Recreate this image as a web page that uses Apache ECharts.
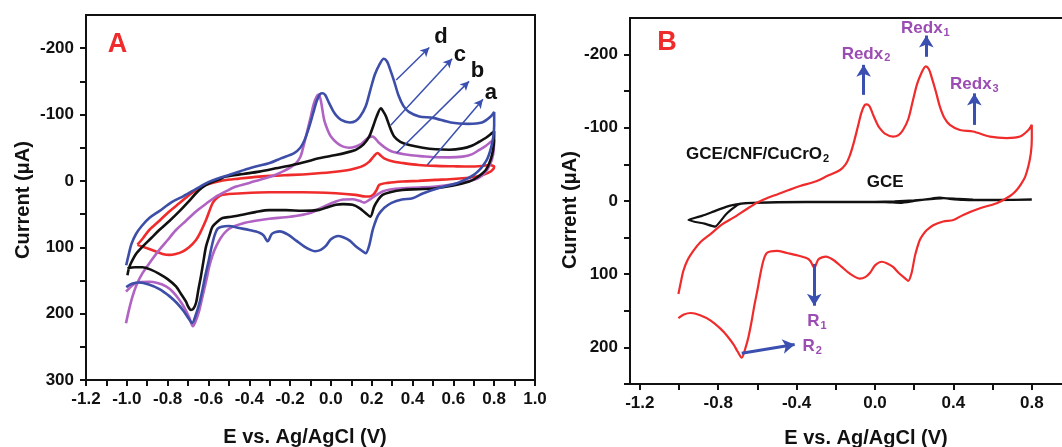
<!DOCTYPE html>
<html><head><meta charset="utf-8">
<script src="https://cdn.jsdelivr.net/npm/echarts@6/dist/echarts.min.js"></script>
<style>html,body{margin:0;padding:0;background:#fff}#c{width:1062px;height:447px}</style>
</head><body><div id="c"></div>
<script>
// ---------- Panel A curves (E in V, I in µA; sweep order) ----------
const curveA_E = [-0.948,-0.92,-0.89,-0.84,-0.792,-0.74,-0.694,-0.65,-0.612,-0.531,-0.45,-0.351,-0.23,-0.106,0.0,0.08,0.122,0.16,0.188,0.21,0.228,0.245,0.261,0.30,0.351,0.43,0.514,0.60,0.678,0.74,0.776,0.80,0.792,0.77,0.743,0.70,0.645,0.58,0.514,0.43,0.351,0.28,0.237,0.225,0.21,0.19,0.171,0.12,0.024,-0.139,-0.302,-0.433,-0.531,-0.56,-0.58,-0.612,-0.64,-0.661,-0.695,-0.727,-0.76,-0.792,-0.825,-0.857,-0.923,-0.948];
const curveA_I = [96,86,74,60,46,33,21,12,6,-0.5,-3.5,-6.5,-8.5,-10.5,-13,-16,-19,-23,-29,-37,-42,-38,-34,-29.5,-27,-24,-22.6,-22,-21.6,-22.5,-24,-21.6,-16.6,-12,-9,-6,-4,-2.5,-1.5,0,1,3,6,13,20,23.5,23.6,21,18.6,17,17,18.6,21,26,33.6,59,78,89,100,106.5,110,111.5,110,106.5,99,96.4];

const curveB_E = [-1.004,-0.99,-0.972,-0.95,-0.923,-0.88,-0.841,-0.80,-0.759,-0.71,-0.661,-0.61,-0.563,-0.51,-0.465,-0.40,-0.351,-0.29,-0.237,-0.20,-0.171,-0.15,-0.139,-0.12,-0.10,-0.085,-0.07,-0.061,-0.05,-0.033,-0.015,0.0,0.03,0.057,0.09,0.122,0.15,0.171,0.19,0.204,0.22,0.237,0.27,0.302,0.384,0.45,0.514,0.58,0.645,0.69,0.727,0.76,0.784,0.80,
  0.795,0.78,0.755,0.72,0.678,0.60,0.514,0.43,0.351,0.29,0.253,0.22,0.188,0.163,0.14,0.106,0.06,0.024,-0.03,-0.106,-0.20,-0.302,-0.37,-0.433,-0.48,-0.514,-0.54,-0.563,-0.58,-0.596,-0.612,-0.629,-0.645,-0.661,-0.676,-0.694,-0.72,-0.743,-0.775,-0.808,-0.85,-0.89,-0.955,-1.004];
const curveB_I = [214.5,195,174,155,139,120,104,89,74,60,46,34,23.6,15,8.5,3,-1.5,-7,-14,-20,-26.6,-36,-46.7,-70,-95,-115,-127,-130,-122,-92,-76,-67,-57,-52,-50,-52,-56,-62,-66,-67,-63,-57,-49,-44,-39,-37,-35.6,-35.5,-36.6,-40,-46.7,-53,-59,-62,
  -40,-25,-12,-4,0,5,8.5,10,11,13,16,22,28.6,32.7,30,27.6,28,31,38,48.7,54,57,60,64,69,76,86,99,112,129,152,174,195,210,219,206,190,179,167,159,154,152,154,167];

const curveC_E = [-0.997,-0.99,-0.98,-0.955,-0.923,-0.88,-0.841,-0.79,-0.743,-0.70,-0.661,-0.63,-0.596,-0.55,-0.514,-0.43,-0.351,-0.27,-0.188,-0.122,-0.06,0.024,0.08,0.122,0.16,0.188,0.21,0.224,0.245,0.258,0.27,0.29,0.31,0.34,0.384,0.45,0.514,0.58,0.645,0.69,0.727,0.76,0.789,0.80,
  0.798,0.79,0.776,0.76,0.743,0.71,0.678,0.60,0.514,0.43,0.351,0.29,0.253,0.23,0.212,0.193,0.171,0.14,0.106,0.06,0.024,-0.02,-0.057,-0.139,-0.22,-0.302,-0.37,-0.433,-0.49,-0.531,-0.555,-0.58,-0.595,-0.612,-0.625,-0.637,-0.65,-0.661,-0.675,-0.686,-0.70,-0.71,-0.735,-0.759,-0.80,-0.841,-0.88,-0.923,-0.96,-0.997];
const curveC_I = [142,132,124,110,99,86,74,60,46,32,18.6,10,3.5,-2,-6.5,-10.5,-14,-19,-24,-29,-34,-39,-43,-46.7,-55,-67,-85,-97,-109.5,-104,-97,-80,-67,-59,-54,-50,-47.7,-47,-49,-53,-59,-65,-72,-75,
  -55,-40,-26.6,-17,-11.6,-4,1,7,11,12.5,13.6,17,21,29,38.7,53.8,48.7,41,36,35,36,40,43.7,45,44,44,47,51,54,56,61,69,82,99,122,144,165,184,193,194.4,189,182,170,159,148,140,134,130,130,131.6];

// curve d (panel A) == GCE/CNF/CuCrO2 (panel B)
const curveD_E = [-1.003,-0.99,-0.978,-0.955,-0.927,-0.89,-0.841,-0.78,-0.722,-0.66,-0.603,-0.55,-0.50,-0.44,-0.382,-0.30,-0.245,-0.18,-0.15,-0.13,-0.11,-0.087,-0.07,-0.053,-0.04,-0.027,-0.01,0.01,0.024,0.05,0.092,0.12,0.143,0.17,0.194,0.215,0.237,0.259,0.275,0.288,0.31,0.331,0.355,0.382,0.433,0.50,0.587,0.672,0.74,0.783,0.80,
  0.80,0.795,0.783,0.766,0.745,0.723,0.70,0.672,0.621,0.536,0.45,0.40,0.348,0.297,0.263,0.245,0.229,0.215,0.203,0.186,0.17,0.155,0.12,0.092,0.06,0.035,0.0,-0.025,-0.05,-0.078,-0.10,-0.13,-0.17,-0.21,-0.25,-0.27,-0.29,-0.31,-0.33,-0.35,-0.40,-0.45,-0.50,-0.535,-0.555,-0.57,-0.585,-0.60,-0.615,-0.63,-0.645,-0.66,-0.68,-0.70,-0.722,-0.755,-0.79,-0.84,-0.892,-0.94,-0.975,-1.003];
const curveD_I = [127,110,95.6,80,68,56,45.5,32,22.8,12,2.3,-4,-9,-15,-20.5,-27,-34,-42,-50,-61,-78,-102,-120,-131,-132,-129,-118,-106,-99.5,-92,-88,-90,-97,-112,-138,-160,-175,-184,-180,-170,-150,-129,-113,-104,-97,-95,-88,-86,-88,-97,-104,
  -84,-65,-48,-33,-23,-15,-9,-4,3,10,19,26,28,33,40,46,53,64,76,99,109,106,98,90,85,83,88,98,104,106,104,99,90,81,76,77,80,91,82,78,74,71,68,69,72,82,100,122,142,165,185,200,214,206,196,184,174,163,156,153,155,160];

// ---------- Panel B bare GCE ----------
const gce_E = [0.80,0.60,0.45,0.38,0.33,0.28,0.20,0.13,0.05,-0.20,-0.50,-0.65,-0.70,-0.76,-0.816,-0.87,-0.952,-0.88,-0.825,-0.76,-0.714,-0.66,-0.50,-0.20,0.0,0.10,0.20,0.30,0.35,0.42,0.50,0.65,0.80];
const gce_I = [-2,-1,-1.5,-3,-4.5,-3,0,2.5,1.5,1.5,2,3,5,18,35,31,26,20,14.5,8,5,3,1.5,1,1,0.5,-1,-3,-4,-3,-2,-1.5,-2];

// ---------- Ticks ----------
const A_xTicks = [-1.2,-1.1,-1.0,-0.9,-0.8,-0.7,-0.6,-0.5,-0.4,-0.3,-0.2,-0.1,0.0,0.1,0.2,0.3,0.4,0.5,0.6,0.7,0.8,0.9,1.0];
const A_xLabels = [-1.2,-1.0,-0.8,-0.6,-0.4,-0.2,0.0,0.2,0.4,0.6,0.8,1.0];
const A_yTicks = [-200,-150,-100,-50,0,50,100,150,200,250,300];
const A_yLabels = [-200,-100,0,100,200,300];
const B_xTicks = [-1.2,-1.0,-0.8,-0.6,-0.4,-0.2,0.0,0.2,0.4,0.6,0.8,1.0];
const B_xLabels = [-1.2,-0.8,-0.4,0.0,0.4,0.8];
const B_yTicks = [-200,-150,-100,-50,0,50,100,150,200,250];
const B_yLabels = [-200,-100,0,100,200];

// ---------- Annotations (data coordinates) ----------
const A_arrows = [[[0.320,-152],[0.482,-201]],[[0.293,-84],[0.594,-184]],[[0.322,-42],[0.677,-150]],[[0.472,-24],[0.745,-123]]];
const A_texts = [['A',-1.046,-206],['d',0.539,-217],['c',0.632,-190],['b',0.718,-166],['a',0.784,-133]];
const B_arrows = [[[-0.058,-145],[-0.058,-186]],[[0.262,-197],[0.262,-226]],[[0.507,-104],[0.507,-147]],[[-0.31,86],[-0.31,143]],[[-0.68,208],[-0.41,196]]];
const B_texts = [['B','B',-1.061,-216],['Redx','2',-0.046,-201],['Redx','1',0.257,-236],['Redx','3',0.507,-159],['R','1',-0.296,165],['R','2',-0.32,199],['GCE/CNF/CuCrO','2',-0.599,-64],['GCE','',0.052,-25]];

const zip = (e, i) => e.map((x, k) => [x, i[k]]);
const FONT = 'Liberation Sans, Arial, sans-serif';
const RED = '#ef2b2b', BLUE = '#3d4ea8', PURPLE = '#b163c3', BLACK = '#111111', ARROW = '#3a4fb0', TXTP = '#9b4db3';

function xAx(grid, min, max, ticks, labels, name, pad, gap) {
  return {type:'value', gridIndex:grid, min:min, max:max,
    axisLine:{show:true, onZero:false, lineStyle:{color:BLACK, width:2}},
    axisTick:{show:true, inside:false, length:6, customValues:ticks, lineStyle:{color:BLACK, width:2}},
    axisLabel:{customValues:labels, margin:11, color:BLACK, fontWeight:'bold', fontSize:17, fontFamily:FONT, formatter:v=>Number(v).toFixed(1)},
    splitLine:{show:false},
    name:name, nameLocation:'middle', nameGap:gap,
    nameTextStyle:{color:BLACK, fontWeight:'bold', fontSize:20, fontFamily:FONT, padding:pad}};
}
function yAx(grid, min, max, ticks, labels, name, pad, gap) {
  return {type:'value', gridIndex:grid, min:min, max:max, inverse:true,
    axisLine:{show:true, onZero:false, lineStyle:{color:BLACK, width:2}},
    axisTick:{show:true, inside:false, length:6, customValues:ticks, lineStyle:{color:BLACK, width:2}},
    axisLabel:{customValues:labels, margin:12, color:BLACK, fontWeight:'bold', fontSize:17, fontFamily:FONT},
    splitLine:{show:false},
    name:name, nameLocation:'middle', nameGap:gap, nameRotate:90,
    nameTextStyle:{color:BLACK, fontWeight:'bold', fontSize:20, fontFamily:FONT, padding:pad}};
}
function cv(name, e, i, color, xi, w, extra) {
  return Object.assign({type:'line', name:name, xAxisIndex:xi, yAxisIndex:xi, data:zip(e,i),
    showSymbol:false, smooth:0.3, lineStyle:{color:color, width:w}, itemStyle:{color:color}, z:3}, extra||{});
}
const subRich = (col, fs) => ({m:{fontSize:fs, fontWeight:'bold', color:col, fontFamily:FONT},
  s:{fontSize:Math.round(fs*0.62), fontWeight:'bold', color:col, fontFamily:FONT, padding:[9,0,0,1]}});

const option = {
  animation:false, backgroundColor:'#fff',
  grid:[{left:86, top:15, width:449, height:365, show:true, borderColor:BLACK, borderWidth:2, outerBoundsMode:'none', containLabel:false},
        {left:630, top:18, width:441, height:366, show:true, borderColor:BLACK, borderWidth:2, outerBoundsMode:'none', containLabel:false}],
  xAxis:[xAx(0,-1.2,1.0,A_xTicks,A_xLabels,'E vs. Ag/AgCl (V)',[0,11,0,0],47),
         xAx(1,-1.25,1.0,B_xTicks,B_xLabels,'E vs. Ag/AgCl (V)',[0,0,0,31],44)],
  yAxis:[yAx(0,-250,300,A_yTicks,A_yLabels,'Current (μA)',[0,5,0,0],53),
         yAx(1,-250,250,B_yTicks,B_yLabels,'Current (μA)',[0,18,0,0],49)],
  series:[
    cv('a', curveA_E, curveA_I, RED, 0, 2.6),
    cv('b', curveB_E, curveB_I, PURPLE, 0, 2.6),
    cv('c', curveC_E, curveC_I, BLACK, 0, 2.6),
    cv('d', curveD_E, curveD_I, BLUE, 0, 2.6, {
      markLine:{silent:true, symbol:['none','arrow'], symbolSize:[7,9], animation:false,
        lineStyle:{color:ARROW, width:1.5, type:'solid'}, label:{show:false},
        data:A_arrows.map(a=>[{coord:a[0]},{coord:a[1]}])},
      markPoint:{silent:true, symbol:'circle', symbolSize:1, itemStyle:{color:'rgba(0,0,0,0)'},
        data:A_texts.map(t=>({name:t[0], coord:[t[1],t[2]],
          label:{show:true, position:'inside', formatter:t[0], fontFamily:FONT, fontWeight:'bold',
            fontSize:t[0]==='A'?27:22, color:t[0]==='A'?RED:BLACK}}))}
    }),
    cv('GCE', gce_E, gce_I, BLACK, 1, 2.2, {smooth:0.15}),
    cv('GCE/CNF/CuCrO2', curveD_E, curveD_I, RED, 1, 2.2, {
      markLine:{silent:true, symbol:['none','arrow'], symbolSize:[11,12], animation:false,
        lineStyle:{color:ARROW, width:3, type:'solid'}, label:{show:false},
        data:B_arrows.map(a=>[{coord:a[0]},{coord:a[1]}])},
      markPoint:{silent:true, symbol:'circle', symbolSize:1, itemStyle:{color:'rgba(0,0,0,0)'},
        data:B_texts.map(t=>{
          let lab;
          if (t[0]==='B') lab={formatter:'B', fontSize:27, color:RED, fontWeight:'bold', fontFamily:FONT};
          else if (t[0].startsWith('GCE')) lab={formatter:t[1]?'{m|'+t[0]+'}{s|'+t[1]+'}':'{m|'+t[0]+'}', rich:subRich(BLACK,17)};
          else lab={formatter:'{m|'+t[0]+'}{s|'+t[1]+'}', rich:subRich(TXTP,17)};
          return {name:t[0]+t[1], coord:[t[2],t[3]], label:Object.assign({show:true, position:'inside'}, lab)};
        })}
    })
  ]
};
const chart = echarts.init(document.getElementById('c'));
chart.setOption(option);
</script></body></html>
